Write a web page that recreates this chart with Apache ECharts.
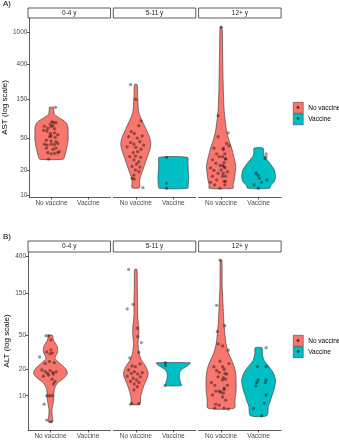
<!DOCTYPE html>
<html>
<head>
<meta charset="utf-8">
<script src="https://cdn.jsdelivr.net/npm/echarts@6.0.0/dist/echarts.min.js"></script>
<style>
html, body { margin: 0; padding: 0; background: #fff; }
#main { width: 339px; height: 440px; }
</style>
</head>
<body>
<div id="main"></div>
<script>
var facets = ['0-4 y', '5-11 y', '12+ y'];
var groups = ['No vaccine', 'Vaccine'];
var colors = ['#F8766D', '#00BFC4'];
var astTicks = [10, 20, 50, 150, 400, 1000];
var altTicks = [10, 20, 50, 150, 400];

// violin outlines: [value, half width in category units]
var astNV04Shape = [[27.5,0.32],[30,0.36],[34,0.39],[39,0.42],[47,0.45],[57,0.45],[66,0.45],[74,0.42],[80,0.36],[86,0.25],[92,0.15],[98,0.08],[106,0.065],[114,0.06],[119,0.06]];
var astNV511Shape = [[12.3,0.10],[14.6,0.10],[16.8,0.125],[20.3,0.19],[24.5,0.25],[29.5,0.31],[36,0.375],[43,0.40],[52,0.36],[63,0.28],[76,0.20],[91,0.12],[110,0.07],[147,0.055],[177,0.045],[226,0.035]];
var astV511Shape = [[12.1,0.38],[13.5,0.40],[16,0.41],[20,0.40],[25,0.39],[29,0.38]];
var astNV12Shape = [[12.1,0.32],[13.3,0.32],[15.3,0.35],[18.5,0.375],[22.3,0.39],[27,0.36],[32,0.32],[39,0.27],[47,0.21],[57,0.16],[69,0.13],[110,0.08],[235,0.055],[600,0.04],[1150,0.025]];
var astV12Shape = [[12.1,0.29],[13.2,0.33],[14.6,0.42],[16.8,0.45],[20.3,0.42],[24.5,0.30],[29.5,0.16],[32,0.13],[37.5,0.12]];

var altNV04Shape = [[5.0,0.06],[5.7,0.05],[6.9,0.04],[8.2,0.07],[9.7,0.09],[11.7,0.10],[13.9,0.18],[15.9,0.35],[18.1,0.45],[20.6,0.40],[23.6,0.25],[27,0.12],[32,0.19],[36.7,0.18],[43.9,0.08],[49.7,0.05]];
var altNV511Shape = [[8.0,0.11],[9.7,0.13],[11.7,0.18],[13.9,0.24],[15.9,0.30],[18.1,0.33],[21.6,0.27],[25.8,0.15],[30.8,0.09],[40,0.06],[50,0.08],[62,0.08],[82,0.05],[116,0.05],[180,0.04],[285,0.03]];
var altV511Shape = [[13.1,0.22],[14,0.20],[15.5,0.17],[17,0.16],[18.5,0.17],[20,0.22],[21.5,0.33],[23,0.43],[24,0.45]];
var altNV12Shape = [[7.2,0.35],[8.9,0.37],[11.7,0.40],[15.2,0.40],[18.1,0.39],[21.6,0.35],[25.8,0.28],[30.8,0.20],[40,0.13],[57,0.09],[74.5,0.07],[116,0.05],[180,0.03],[366,0.02]];
var altV12Shape = [[5.9,0.22],[7.5,0.26],[8.9,0.32],[10.7,0.38],[12.7,0.43],[15.2,0.45],[18.1,0.40],[21.6,0.28],[25.8,0.14],[30.8,0.10],[35.7,0.09]];

// individual patients: [jitter offset, value]
var astNV04 = [[0.11,119],[0.01,79],[0.06,78],[0.12,77],[-0.03,74],[0.04,71],[-0.01,69],[-0.19,70],[-0.10,66],[0.08,65],
  [-0.21,62],[-0.12,61],[-0.03,57],[0.08,58],[-0.01,53],[-0.05,52],[0.10,51],[0.17,55],[-0.14,47],[-0.01,46],[0.12,45],
  [-0.19,42],[-0.12,41],[-0.01,42],[0.08,41.5],[0.17,43],[-0.14,37.5],[0.04,36.5],[0.12,37.5],[-0.10,33],[-0.01,32],
  [0.08,32.5],[0.17,33],[0.21,34],[-0.08,27.5]];
var astNV511 = [[-0.14,226],[0,149],[0.14,81],[0.08,71],[-0.12,60],[-0.04,57],[-0.19,52],[0.04,50],[0.17,53],[-0.14,44],
  [-0.05,42],[0.11,45],[0.21,41],[-0.23,39],[0,38.5],[0.14,36.5],[-0.07,33],[0.05,34],[-0.16,29.5],[-0.01,30],[0.13,29],
  [-0.05,27],[0.08,25.5],[0.02,24],[-0.10,22.5],[0.11,22],[-0.01,20.3],[0.08,19.3],[-0.05,17.5],[-0.10,16],[-0.04,15.7],[0.19,12.3]];
var astV511 = [[-0.18,29],[-0.18,13.9],[-0.18,12.1]];
var astNV12 = [[0,1150],[-0.08,94],[-0.08,52],[0.19,58],[0.21,40],[0.15,43],[0.06,37.5],[0.10,32],[0.04,29.5],[0.12,27.5],
  [0.08,25],[0.04,23],[0.10,21.5],[0,20.3],[0.06,18.5],[0.12,17],[0.08,14.7],[0.10,13.3],[-0.19,37.5],[-0.12,32],[-0.05,29.5],
  [-0.23,27],[-0.14,24.5],[-0.03,23],[-0.28,21.5],[-0.19,20],[-0.08,18.5],[-0.23,17],[-0.12,15.3],[-0.28,14.3],[-0.17,13.3],
  [-0.03,12.1],[0.06,36],[0.12,28],[0.08,22.3],[0.17,19.3],[0.04,17],[0.12,14.7]];
var astV12 = [[0.20,32],[0.20,29.5],[0.17,28],[-0.07,18.5],[-0.01,17.3],[0.02,16],[0.22,15.3],[0.08,14.3],[-0.12,13.3],[-0.01,12.1]];

var altNV04 = [[-0.12,49.2],[-0.05,49.2],[0.01,44],[-0.29,28],[-0.10,32],[0.01,33.8],[-0.01,30.4],[0.05,31.2],[-0.14,23.6],
  [-0.03,24.8],[0.10,24],[-0.23,19.8],[-0.14,18.9],[-0.08,18.1],[-0.01,19.5],[0.06,18.5],[0.15,18.9],[-0.19,16.8],[-0.05,17.3],
  [0.08,17.8],[0.04,15.5],[0.12,14.6],[0.08,13.7],[-0.10,10],[-0.03,10],[0.04,10],[-0.17,8],[-0.10,5.25],[0.01,5.0]];
var altNV511 = [[-0.19,285],[-0.23,100],[-0.07,113],[0.04,60],[0.05,48],[0.15,41],[0.08,31.5],[-0.16,27.3],[-0.10,22],
  [-0.01,21.6],[0.11,23.2],[0.17,18.4],[-0.19,19.8],[-0.12,18.1],[-0.04,18.9],[0.05,17.8],[0.12,16.5],[-0.23,16.8],
  [-0.07,15.9],[0.02,15.2],[0.08,14.2],[-0.14,14.6],[-0.04,13.7],[0.04,12.7],[-0.05,11.7],[-0.10,8.1],[0.08,8.1],[-0.14,8]];
var altV511 = [[-0.21,24],[-0.21,22.3],[-0.22,13.1]];
var altNV12 = [[-0.03,366],[-0.12,110],[-0.10,55],[-0.08,39.5],[0.04,37.5],[0.19,33.5],[0.10,64],[0.04,21.6],[0.10,18.1],
  [0.04,15.2],[0.08,12.2],[0.06,10.7],[0.19,7],[-0.19,21.6],[-0.12,19.6],[-0.05,18.6],[0.08,20.2],[0.15,17.8],[-0.08,16.5],
  [0.06,16.2],[0.12,15.5],[-0.14,11.3],[-0.05,11.3],[-0.01,11],[0.08,11.7],[-0.26,14.2],[-0.17,13.2],[0.17,13.2],
  [-0.23,10.2],[0.04,9.7],[0.12,8.9],[-0.14,8],[-0.05,7.8],[-0.17,7.2],[0.08,7.2],[-0.03,25],[0.21,23.5]];
var altV12 = [[0.20,35.7],[-0.03,21.6],[0.20,21.6],[-0.01,15.2],[-0.05,14.2],[0.20,15.2],[0.18,14.2],[-0.07,13],
  [0.20,10.2],[0.15,8.2],[-0.14,7.1],[0.08,5.9]];

var panels = [
  { label: 'A)', name: 'AST (log scale)', ticks: astTicks, min: 9.45, max: 1486, top: 18, height: 179, stripTop: 8,
    legendTop: 102,
    cells: [
      [[astNV04Shape, astNV04], null],
      [[astNV511Shape, astNV511], [astV511Shape, astV511]],
      [[astNV12Shape, astNV12], [astV12Shape, astV12]]
    ] },
  { label: 'B)', name: 'ALT (log scale)', ticks: altTicks, min: 4.03, max: 453, top: 252, height: 178, stripTop: 241,
    legendTop: 335,
    cells: [
      [[altNV04Shape, altNV04], null],
      [[altNV511Shape, altNV511], [altV511Shape, altV511]],
      [[altNV12Shape, altNV12], [altV12Shape, altV12]]
    ] }
];
var lefts = [28, 113.3, 198.6];
var panelW = 82.5;

function violinRender(shape) {
  return function (params, api) {
    var cx = api.value(0);
    var right = [], left = [];
    for (var k = 0; k < shape.length; k++) {
      right.push(api.coord([cx + shape[k][1], shape[k][0]]));
      left.unshift(api.coord([cx - shape[k][1], shape[k][0]]));
    }
    return {
      type: 'polygon',
      shape: { points: right.concat(left), smooth: 0.25 },
      style: api.style({ stroke: '#333', lineWidth: 0.6 })
    };
  };
}

var grid = [], xAxis = [], yAxis = [], series = [], graphic = [], legend = [];
var gi = 0;
panels.forEach(function (p) {
  graphic.push({ type: 'text', left: 3, top: p.stripTop - 8, style: { text: p.label, fontSize: 8, fill: '#000', fontFamily: 'Liberation Sans' } });
  legend.push({
    data: groups, orient: 'vertical', left: 293, top: p.legendTop, itemWidth: 10, itemHeight: 11, itemGap: 0,
    padding: 0, icon: 'rect', selectedMode: false,
    itemStyle: { borderColor: '#333', borderWidth: 0.5 },
    textStyle: { fontSize: 6.5, color: '#000', fontFamily: 'Liberation Sans' }
  });
  graphic.push({ type: 'circle', shape: { cx: 298, cy: p.legendTop + 5.5, r: 1.4 }, style: { fill: 'rgba(0,0,0,0.6)' }, z: 100 });
  graphic.push({ type: 'circle', shape: { cx: 298, cy: p.legendTop + 16.5, r: 1.4 }, style: { fill: 'rgba(0,0,0,0.6)' }, z: 100 });
  for (var f = 0; f < 3; f++) {
    grid.push({ left: lefts[f], top: p.top, width: panelW, height: p.height });
    graphic.push({ type: 'rect', shape: { x: lefts[f], y: p.stripTop, width: panelW, height: p.top - p.stripTop },
      style: { fill: '#fff', stroke: '#333', lineWidth: 0.8 } });
    graphic.push({ type: 'text', x: lefts[f] + panelW / 2, y: (p.stripTop + p.top) / 2,
      style: { text: facets[f], fontSize: 6.5, fill: '#1a1a1a', align: 'center', verticalAlign: 'middle', fontFamily: 'Liberation Sans' } });
    xAxis.push({
      type: 'value', gridIndex: gi, min: 0.4, max: 2.6,
      axisLine: { show: true, lineStyle: { color: '#333', width: 0.8 } },
      axisTick: { show: true, customValues: [1, 2], length: 2.5, lineStyle: { color: '#333', width: 0.8 } },
      axisLabel: { customValues: [1, 2], fontSize: 6.5, color: '#4D4D4D', margin: 3,
        formatter: function (v) { return groups[Math.round(v) - 1]; } },
      splitLine: { show: false }
    });
    var first = f === 0;
    yAxis.push({
      type: 'log', gridIndex: gi, min: p.min, max: p.max,
      name: first ? p.name : '', nameLocation: 'middle', nameGap: 17,
      nameTextStyle: { fontSize: 8, color: '#000' },
      axisLine: { show: first, lineStyle: { color: '#333', width: 0.8 } },
      axisTick: { show: first, customValues: p.ticks, length: 2.5, lineStyle: { color: '#333', width: 0.8 } },
      axisLabel: { show: first, customValues: p.ticks, fontSize: 6.5, color: '#4D4D4D', margin: 2,
        formatter: function (v) { return String(Math.round(v)); } },
      splitLine: { show: false }
    });
    p.cells[f].forEach(function (cell, g) {
      if (!cell) return;
      series.push({
        name: groups[g], type: 'custom', xAxisIndex: gi, yAxisIndex: gi,
        itemStyle: { color: colors[g] },
        renderItem: violinRender(cell[0]),
        data: [[g + 1]], silent: true, z: 2
      });
      series.push({
        type: 'scatter', xAxisIndex: gi, yAxisIndex: gi, symbolSize: 3.3,
        itemStyle: { color: 'rgba(0,0,0,0.5)' }, silent: true, z: 3,
        data: cell[1].map(function (d) { return [g + 1 + d[0], d[1]]; })
      });
    });
    gi++;
  }
});

var chart = echarts.init(document.getElementById('main'), null, { renderer: 'canvas' });
chart.setOption({
  animation: false,
  textStyle: { fontFamily: 'Liberation Sans' },
  grid: grid, xAxis: xAxis, yAxis: yAxis, series: series, legend: legend, graphic: graphic
});
</script>
</body>
</html>
